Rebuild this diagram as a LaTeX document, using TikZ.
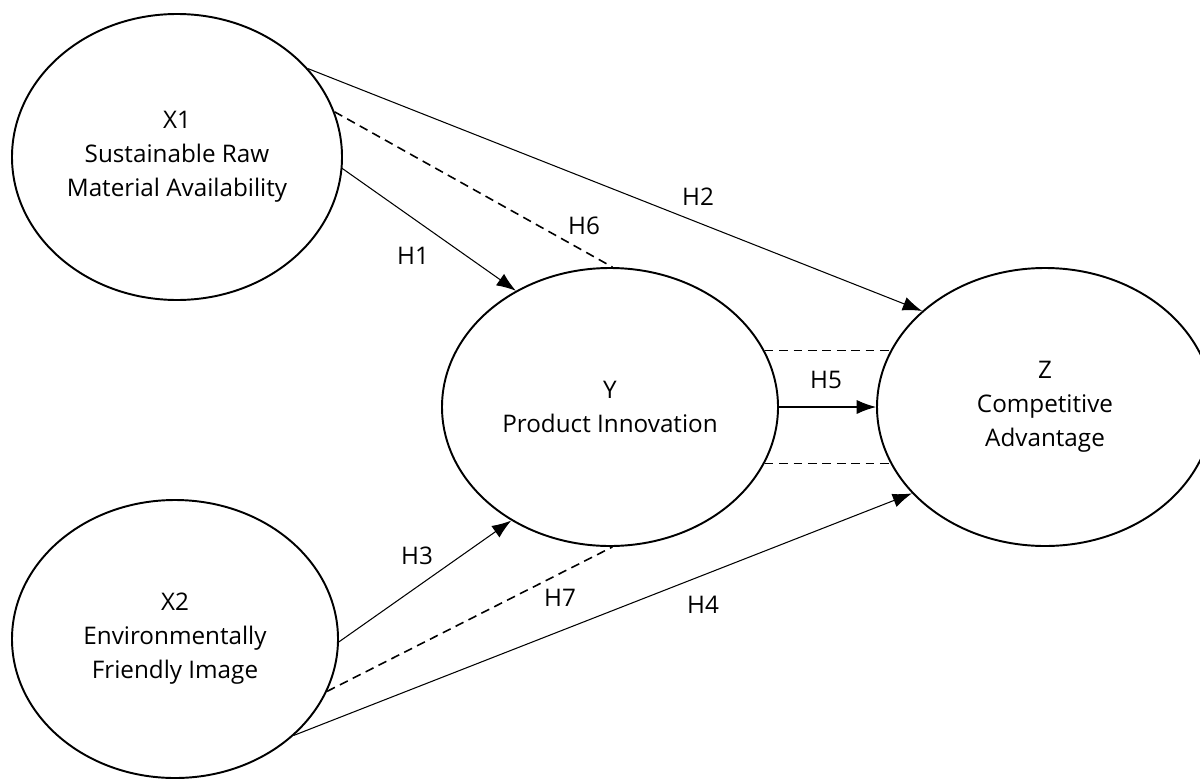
\documentclass[tikz,border=0pt]{standalone}
\usepackage{fontspec}
\setmainfont{Open Sans}
\usetikzlibrary{shapes.geometric,arrows.meta}

\begin{document}
\begin{tikzpicture}[line cap=round,line join=round,>={Latex[length=11pt,width=8pt]},
  construct/.style={ellipse,draw,line width=1.1pt,align=center,inner sep=0pt,
    minimum width=6.72cm,minimum height=5.56cm,font=\fontsize{13.8}{19.3}\selectfont},
  effect/.style={line width=0.6pt,->},
  mediate/.style={line width=0.9pt,line cap=butt,dash pattern=on 5pt off 3.2pt},
  hyp/.style={font=\fontsize{13.8}{16}\selectfont}]
  \useasboundingbox (0,0) rectangle (24,-15.56);
  % constructs
  \node[construct,minimum width=6.6cm,minimum height=5.72cm] (x1) at (3.54,-3.14)
    {X1\\Sustainable Raw\\Material Availability};
  \node[construct,minimum width=6.52cm] (x2) at (3.50,-12.78)
    {X2\\Environmentally\\Friendly Image};
  \node[construct] (y) at (12.20,-8.14) {Y\\Product Innovation};
  \node[construct] (z) at (20.90,-8.14) {Z\\Competitive\\Advantage};
  % direct paths
  \draw[effect] (x1.-4) -- (y.129);
  \draw[effect] (x1.34) -- (z.142);
  \draw[effect] (x2.-1) -- (y.229);
  \draw[effect] (x2.-39) -- (z.213);
  \draw[effect] (y.east) -- (z.west);
  % mediation
  \draw[mediate] (x1.16) -- (y.89);
  \draw[mediate] (x2.-19) -- (y.-89);
  \draw[mediate] (y.20) -- (z.160);
  \draw[mediate] (y.-20) -- (z.200);
  % labels
  \node[hyp] (h1) at (8.26,-5.12) {H1};
  \node[hyp] (h2) at (13.96,-3.94) {H2};
  \node[hyp] (h3) at (8.34,-11.12) {H3};
  \node[hyp] (h4) at (14.06,-12.10) {H4};
  \node[hyp] (h5) at (16.52,-7.60) {H5};
  \node[hyp] (h6) at (11.68,-4.52) {H6};
  \node[hyp] (h7) at (11.20,-11.96) {H7};
\end{tikzpicture}
\end{document}
